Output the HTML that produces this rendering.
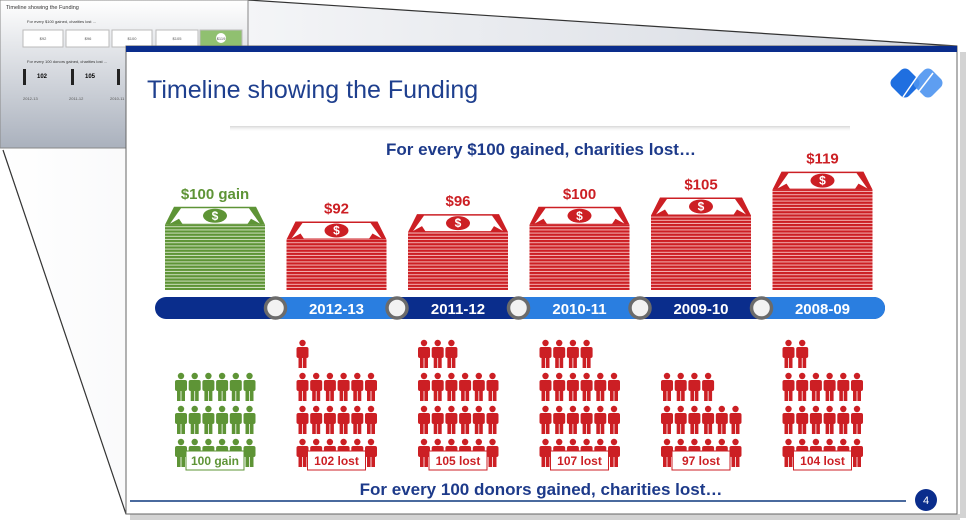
<!DOCTYPE html>
<html><head><meta charset="utf-8"><style>
html,body{margin:0;padding:0;background:#fff;}
svg{display:block;font-family:"Liberation Sans",Arial,sans-serif;}
</style></head><body>
<svg id="c" width="971" height="527" viewBox="0 0 971 527">
<defs>
<linearGradient id="bg" x1="0" y1="0" x2="0" y2="1"><stop offset="0" stop-color="#ffffff"/><stop offset="1" stop-color="#aab1bd"/></linearGradient>
<linearGradient id="lens" x1="0" y1="0" x2="1" y2="0"><stop offset="0" stop-color="#ffffff"/><stop offset="1" stop-color="#d4d8e0"/></linearGradient>
<pattern id="redS" width="4" height="3.2" patternUnits="userSpaceOnUse"><rect width="4" height="3.2" fill="#f3b3b3"/><rect width="4" height="2.2" fill="#cc1f24"/></pattern>
<pattern id="grnS" width="4" height="3.2" patternUnits="userSpaceOnUse"><rect width="4" height="3.2" fill="#cfe0bf"/><rect width="4" height="2.2" fill="#5e9436"/></pattern>
<linearGradient id="tsh" x1="0" y1="0" x2="0" y2="1"><stop offset="0" stop-color="#ccc"/><stop offset="1" stop-color="#fff" stop-opacity="0"/></linearGradient>
</defs>
<polygon points="0,0 248,0 957,46 957,514 126,514 0,148" fill="url(#lens)"/>
<line x1="4" y1="0" x2="126" y2="52" stroke="#333" stroke-width="1.2"/>
<line x1="248" y1="0" x2="957" y2="46" stroke="#333" stroke-width="1.2"/>
<line x1="3" y1="150" x2="126" y2="514" stroke="#333" stroke-width="1.2"/>
<g>
<rect x="0" y="0" width="248" height="148" fill="url(#bg)" stroke="#888"/>
<text x="6" y="9" font-size="5.5" fill="#333">Timeline showing the Funding</text>
<text x="27" y="23" font-size="4" fill="#333">For every $100 gained, charities lost ...</text>
<g font-size="4" fill="#555" text-anchor="middle">
<rect x="23" y="30" width="40" height="17" fill="#fff" stroke="#bbb"/><text x="43" y="40">$92</text>
<rect x="66" y="30" width="43" height="17" fill="#fff" stroke="#bbb"/><text x="88" y="40">$96</text>
<rect x="112" y="30" width="40" height="17" fill="#fff" stroke="#bbb"/><text x="132" y="40">$100</text>
<rect x="156" y="30" width="42" height="17" fill="#fff" stroke="#bbb"/><text x="177" y="40">$105</text>
<rect x="200" y="30" width="42" height="17" fill="#90c070" stroke="#bbb"/><circle cx="221" cy="38" r="5" fill="#fff"/><text x="221" y="40">$119</text>
</g>
<text x="27" y="63" font-size="4" fill="#333">For every 100 donors gained, charities lost ...</text>
<rect x="23" y="69" width="3" height="16" fill="#222"/><text x="37" y="78" font-size="6" font-weight="bold">102</text>
<rect x="71" y="69" width="3" height="16" fill="#222"/><text x="85" y="78" font-size="6" font-weight="bold">105</text>
<rect x="117" y="69" width="3" height="16" fill="#222"/>
<text x="23" y="100" font-size="4" fill="#555">2012-13</text><text x="69" y="100" font-size="4" fill="#555">2011-12</text><text x="110" y="100" font-size="4" fill="#555">2010-11</text>
</g>
<rect x="960" y="52" width="6" height="466" fill="#b5b5b5" opacity="0.6"/>
<rect x="130" y="514" width="830" height="6" fill="#b5b5b5" opacity="0.6"/>
<rect x="126" y="46" width="831" height="468" fill="#fff" stroke="#666"/>
<rect x="126" y="46" width="831" height="6" fill="#0a2d8c"/>
<text x="147" y="98" font-size="25" fill="#1e3f8e">Timeline showing the Funding</text>
<g>
<rect x="-12" y="-12" width="24" height="24" rx="6" fill="#1f6fe0" transform="translate(905,83) rotate(45)"/>
<rect x="-12" y="-12" width="24" height="24" rx="6" fill="#4d94f0" opacity="0.9" transform="translate(928,83) rotate(45)"/>
<line x1="903" y1="97" x2="921" y2="71" stroke="#fff" stroke-width="1.5"/>
<line x1="913" y1="99" x2="933" y2="73" stroke="#fff" stroke-width="1.5"/>
</g>
<rect x="230" y="126" width="620" height="6" fill="url(#tsh)" opacity="0.8"/>
<text x="541" y="155" font-size="17" font-weight="bold" fill="#1d3a8a" text-anchor="middle">For every $100 gained, charities lost…</text>
<g id="money"></g>
<g id="timeline"></g>
<g id="people"></g>
<text x="541" y="495" font-size="17" font-weight="bold" fill="#1d3a8a" text-anchor="middle">For every 100 donors gained, charities lost…</text>
<line x1="130" y1="501" x2="906" y2="501" stroke="#4a6a9e" stroke-width="2"/>
<circle cx="926" cy="500" r="11" fill="#0a2d8c"/>
<text x="926" y="504" font-size="11" fill="#fff" text-anchor="middle">4</text>
</svg>
<script>
const categories = ["gain", "2012-13", "2011-12", "2010-11", "2009-10", "2008-09"];
const moneyValues = [100, 92, 96, 100, 105, 119];
const moneyLabels = ["$100 gain", "$92", "$96", "$100", "$105", "$119"];
const donorValues = [100, 102, 105, 107, 97, 104];
const donorLabels = ["100 gain", "102 lost", "105 lost", "107 lost", "97 lost", "104 lost"];

const NS = "http://www.w3.org/2000/svg";
function mk(tag, attrs, parent){ const e=document.createElementNS(NS,tag); for(const k in attrs) e.setAttribute(k,attrs[k]); parent.appendChild(e); return e; }
const xCenter = i => 215 + i*121.5;
const baseY = 290;
const yTop = v => baseY - (v-55)*1.85;

const money = document.getElementById('money');
moneyValues.forEach((v,i)=>{
  const cx = xCenter(i), w = 100, top = yTop(v);
  const green = i===0;
  const col = green ? "#5e9436" : "#cc1f24";
  const g = mk('g',{},money);
  
  
  mk('rect',{x:cx-w/2,y:top+18,width:w,height:baseY-top-18,fill:green?"url(#grnS)":"url(#redS)"},g);
  mk('polygon',{points:`${cx-w/2+9},${top} ${cx+w/2-9},${top} ${cx+w/2},${top+18} ${cx-w/2},${top+18}`,fill:col},g);
  mk('polygon',{points:`${cx-w/2+16},${top+1.5} ${cx+w/2-16},${top+1.5} ${cx+w/2-5},${top+17} ${cx-w/2+5},${top+17}`,fill:"#fff"},g);
  mk('polygon',{points:`${cx-w/2+3},${top+18} ${cx-w/2+14},${top+12} ${cx-w/2+18},${top+18}`,fill:col},g);
  mk('polygon',{points:`${cx+w/2-3},${top+18} ${cx+w/2-14},${top+12} ${cx+w/2-18},${top+18}`,fill:col},g);
  mk('ellipse',{cx:cx,cy:top+9,rx:12,ry:7,fill:col},g);
  const d = mk('text',{x:cx,y:top+13,'font-size':12,'font-weight':'bold',fill:'#fff','text-anchor':'middle'},g); d.textContent='$';
  const t = mk('text',{x:cx,y:top-8,'font-size':15,'font-weight':'bold',fill:col,'text-anchor':'middle'},g);
  
  
  t.textContent = moneyLabels[i];
});

const tl = document.getElementById('timeline');
const bar = mk('rect',{x:155,y:297,width:730,height:22,rx:11,fill:"#0a2d8c"},tl);


for(let i=1;i<categories.length;i++){
  const x0 = xCenter(i)-60, x1 = i===categories.length-1 ? 885 : xCenter(i)+61;
  if(i%2===1){
    const r = mk('rect',{x:x0,y:297,width:x1-x0,height:22,rx:i===categories.length-1?11:0,fill:"#2a7ee0"},tl);
    
    
    if(i===categories.length-1) mk('rect',{x:x0,y:297,width:20,height:22,fill:"#2a7ee0"},tl);
  }
  const lbl = mk('text',{x:xCenter(i),y:314,'font-size':15,'font-weight':'bold',fill:'#fff','text-anchor':'middle'},tl);
  
  
  lbl.textContent = categories[i];
}
for(let i=1;i<categories.length;i++){
  const c = mk('circle',{cx:xCenter(i)-61,cy:308,r:10,fill:"#f2f2f2",stroke:"#6b6b6b","stroke-width":3.5},tl);
  
  
}

const people = document.getElementById('people');
function person(x,y,col,parent){
  const g = mk('g',{fill:col},parent);
  mk('circle',{cx:x,cy:y+3,r:3.2},g);
  mk('rect',{x:x-6,y:y+7,width:12,height:11,rx:2},g);
  mk('rect',{x:x-4,y:y+15,width:3.6,height:13},g);
  mk('rect',{x:x+0.4,y:y+15,width:3.6,height:13},g);
  return g;
}
const rowY = [439,406,373,340];
donorValues.forEach((v,i)=>{
  const cx = xCenter(i), col = i===0 ? "#5e9436" : "#cc1f24";
  const g = mk('g',{},people);
  
  
  const n = 18 + Math.round((v-100)/1.75);
  let placed = 0, r = 0;
  while(placed < n){
    const inRow = Math.min(6, n-placed);
    for(let k=0;k<inRow;k++){
      const p = person(cx-34+k*13.7, rowY[r], col, g);
      
      
    }
    placed += inRow; r++;
  }
  const b = mk('rect',{x:cx-29,y:451,width:58,height:19,fill:'#fff',stroke:col,'stroke-width':1},g);
  
  
  const t = mk('text',{x:cx,y:465,'font-size':12,'font-weight':'bold',fill:col,'text-anchor':'middle'},g);
  
  
  t.textContent = donorLabels[i];
});
</script>
</body></html>
